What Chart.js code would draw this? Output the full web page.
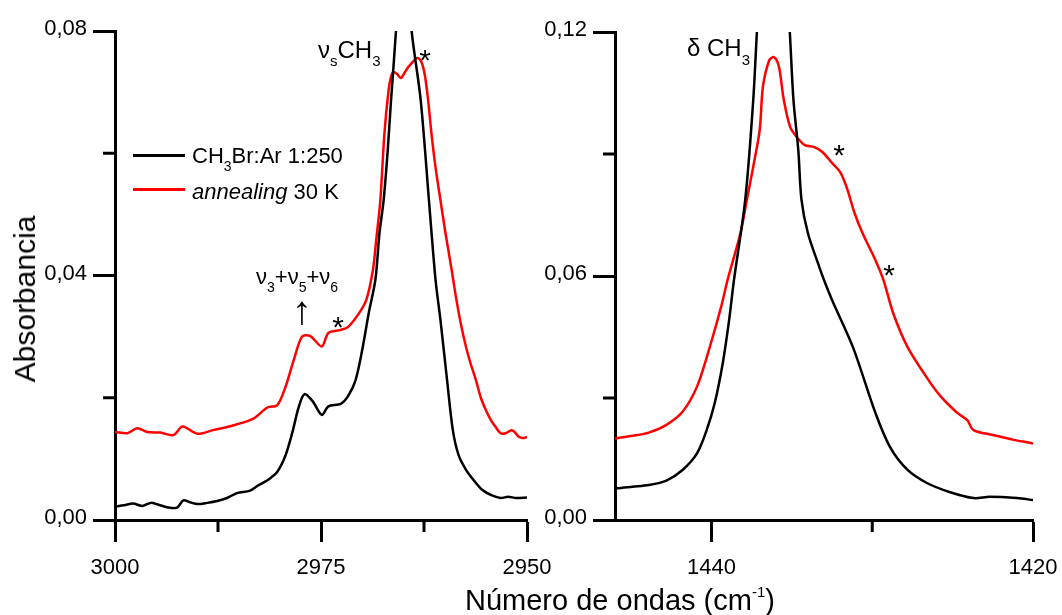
<!DOCTYPE html>
<html><head><meta charset="utf-8">
<script src="https://cdn.jsdelivr.net/npm/chart.js@4.4.1/dist/chart.umd.min.js"></script>
<style>
html,body{margin:0;padding:0;background:#fff;}
#wrap{position:relative;width:1062px;height:615px;overflow:hidden;background:#fff;font-family:"Liberation Sans",Arial,sans-serif;color:#000;}
canvas{position:absolute;top:0;}
.t{position:absolute;white-space:nowrap;line-height:1;font-size:22px;z-index:2;}
.sub{font-size:14px;position:relative;top:8px;}
.star{position:absolute;font-size:30px;line-height:1;z-index:2;transform:translateX(-50%);}
.sw{position:absolute;height:3px;width:52px;left:133px;z-index:2;}
</style></head><body>
<div id="wrap">
<canvas id="cL" width="560" height="615" style="left:0"></canvas>
<canvas id="cR" width="542" height="615" style="left:520px"></canvas>

<div class="t" style="left:318px;top:38px;font-size:24px;">ν<span class="sub" style="font-size:15px">s</span>CH<span class="sub" style="font-size:15px">3</span></div>
<div class="t" style="left:687px;top:36px;font-size:24px;">δ CH<span class="sub" style="top:9px;font-size:15px">3</span></div>
<div class="t" style="left:256px;top:266px;">ν<span class="sub">3</span>+ν<span class="sub">5</span>+ν<span class="sub">6</span></div>
<div class="t" style="left:292px;top:290px;font-size:40px;">↑</div>
<div class="star" style="left:425px;top:45px;">*</div>
<div class="star" style="left:338px;top:312px;">*</div>
<div class="star" style="left:839px;top:140px;">*</div>
<div class="star" style="left:889px;top:260px;">*</div>

<div class="sw" style="top:154px;background:#000;"></div>
<div class="sw" style="top:188px;background:#ff0000;"></div>
<div class="t" style="left:192px;top:145px;">CH<span class="sub">3</span>Br:Ar 1:250</div>
<div class="t" style="left:192px;top:181px;"><i>annealing</i> 30 K</div>

<div class="t" style="left:465px;top:586px;font-size:29px;">Número de ondas (cm<span style="font-size:15px;position:relative;top:-13px;">-1</span>)</div>
<div class="t" style="left:25px;top:299px;font-size:30px;transform:translate(-50%,-50%) rotate(-90deg);">Absorbancia</div>
</div>
<script>
// ---------- data ----------
const seriesNames = ['CH3Br:Ar 1:250', 'annealing 30 K'];
const seriesColors = ['#000000', '#ff0000'];

// left panel (nu_s CH3 region), wavenumber in cm-1
const leftBlackX = [3000,2998.9,2997.8,2996.7,2995.7,2994.7,2993.7,2992.5,2991.7,2990.9,2990.0,2988.8,2987.6,2986.4,2985.2,2983.6,2982.7,2981.5,2980.3,2979.3,2978.5,2977.7,2977.0,2976.0,2974.9,2974.1,2972.6,2971.7,2970.8,2970.0,2969.2,2968.4,2967.9,2967.4,2966.9,2966.5,2965.9,2965.5,2965.0,2964.5,2964.0,2962.9,2961.9,2961.1,2960.5,2959.7,2959.0,2958.3,2957.4,2956.4,2955.4,2954.4,2953.2,2952.3,2951.3,2950.0];
const leftBlackY = [0.0022,0.0024,0.0027,0.0023,0.0028,0.0025,0.0021,0.0020,0.0032,0.0029,0.0026,0.0028,0.0031,0.0036,0.0044,0.0048,0.0056,0.0065,0.0079,0.0106,0.0142,0.0185,0.0206,0.0194,0.0172,0.0186,0.0190,0.0203,0.0229,0.0278,0.0339,0.0393,0.0470,0.0523,0.0605,0.0687,0.0800,0.0900,0.0970,0.0900,0.0800,0.0687,0.0523,0.0393,0.0327,0.0229,0.0147,0.0106,0.0082,0.0064,0.0049,0.0041,0.0036,0.0038,0.0036,0.0037];
const leftRedX = [3000,2998.5,2997.3,2996.1,2994.5,2992.9,2991.8,2990.0,2988.1,2985.6,2983.2,2981.5,2980.3,2979.3,2978.3,2977.3,2976.3,2974.9,2974.1,2972.6,2971.7,2970.4,2969.5,2968.7,2968.3,2967.8,2967.3,2966.8,2966.5,2966.2,2965.8,2965.3,2964.8,2964.4,2963.7,2963.3,2962.8,2962.4,2962.0,2961.6,2961.1,2960.5,2959.9,2959.2,2958.6,2958.0,2957.4,2956.8,2956.2,2955.6,2955.0,2954.4,2953.8,2953.2,2952.6,2951.9,2951.5,2951.0,2950.5,2950.0];
const leftRedY = [0.0144,0.0142,0.0150,0.0144,0.0143,0.0139,0.0153,0.0141,0.0147,0.0155,0.0166,0.0184,0.0188,0.0218,0.0262,0.0300,0.0301,0.0284,0.0306,0.0311,0.0316,0.0338,0.0360,0.0409,0.0458,0.0523,0.0633,0.0703,0.0725,0.0733,0.0730,0.0723,0.0733,0.0741,0.0752,0.0756,0.0749,0.0728,0.0687,0.0633,0.0577,0.0523,0.0470,0.0414,0.0363,0.0319,0.0283,0.0254,0.0229,0.0200,0.0180,0.0164,0.0152,0.0142,0.0142,0.0147,0.0144,0.0136,0.0134,0.0136];

// right panel (delta CH3 region)
const rightBlackX = [1446.0,1445.9,1444.9,1443.9,1442.8,1441.8,1440.9,1440.3,1439.8,1439.3,1438.9,1438.6,1437.9,1437.4,1437.1,1436.6,1436.2,1435.7,1435.2,1434.9,1434.6,1434.4,1434.0,1433.3,1433.0,1432.5,1431.2,1429.8,1428.9,1427.8,1426.6,1425.2,1423.7,1422.7,1421.0,1420.0];
const rightBlackY = [0.0077,0.0078,0.0082,0.0086,0.0097,0.0123,0.0164,0.0221,0.0287,0.0385,0.0492,0.0590,0.0787,0.1033,0.1250,0.1500,0.1600,0.1500,0.1250,0.1033,0.0910,0.0787,0.0705,0.0623,0.0590,0.0541,0.0425,0.0263,0.0180,0.0123,0.0091,0.0069,0.0054,0.0057,0.0054,0.0049];
const rightRedX = [1446.0,1445.9,1444.9,1443.9,1442.8,1441.8,1440.9,1440.1,1439.4,1439.0,1438.2,1437.8,1437.4,1437.0,1436.8,1436.4,1436.1,1435.8,1435.5,1435.1,1434.7,1434.2,1433.6,1433.1,1432.5,1432.0,1431.6,1431.1,1430.6,1429.8,1429.3,1428.7,1427.8,1426.5,1425.7,1424.7,1424.1,1423.7,1422.5,1421.2,1420.2,1420.0];
const rightRedY = [0.0200,0.0201,0.0207,0.0215,0.0234,0.0266,0.0328,0.0426,0.0524,0.0590,0.0705,0.0787,0.0869,0.0959,0.1065,0.1131,0.1138,0.1114,0.1033,0.0966,0.0942,0.0922,0.0917,0.0905,0.0878,0.0856,0.0819,0.0755,0.0705,0.0639,0.0590,0.0509,0.0425,0.0344,0.0302,0.0263,0.0246,0.0221,0.0209,0.0197,0.0190,0.0188];

// ticks
const leftXTicks = [3000, 2975, 2950];
const leftXMinor = [2987.5, 2962.5];
const leftYTicks = [0, 0.04, 0.08];
const leftYMinor = [0.02, 0.06];
const rightXTicks = [1440, 1420];
const rightXMinor = [1430];
const rightYTicks = [0, 0.06, 0.12];
const rightYMinor = [0.03, 0.09];

// ---------- chart ----------
const FONT = "'Liberation Sans', Arial, sans-serif";
Chart.defaults.font.family = FONT;
Chart.defaults.color = '#000';

const minorTicks = {
  id: 'minorTicks',
  afterDraw(chart, args, opts) {
    const ctx = chart.ctx, ca = chart.chartArea;
    ctx.save();
    ctx.strokeStyle = '#000';
    ctx.lineWidth = 3;
    (opts.x || []).forEach(v => {
      const px = chart.scales.x.getPixelForValue(v);
      ctx.beginPath(); ctx.moveTo(px, ca.bottom); ctx.lineTo(px, ca.bottom + 12); ctx.stroke();
    });
    (opts.y || []).forEach(v => {
      const py = chart.scales.y.getPixelForValue(v);
      ctx.beginPath(); ctx.moveTo(ca.left, py); ctx.lineTo(ca.left - 12, py); ctx.stroke();
    });
    ctx.restore();
  }
};

function pts(xs, ys) { return xs.map((x, i) => ({x: x, y: ys[i]})); }
function fmt(v) { return v.toFixed(2).replace('.', ','); }

function makeChart(id, o) {
  const axisCommon = {
    border: {display: true, color: '#000', width: 3},
    grid: {drawOnChartArea: false, drawTicks: true, tickLength: 22, tickWidth: 3, tickColor: '#000', color: '#000'},
  };
  return new Chart(document.getElementById(id), {
    type: 'line',
    data: {
      datasets: [
        {label: seriesNames[0], data: pts(o.bx, o.by), borderColor: seriesColors[0], borderWidth: 2.5, pointRadius: 0, tension: 0.3, fill: false},
        {label: seriesNames[1], data: pts(o.rx, o.ry), borderColor: seriesColors[1], borderWidth: 2.5, pointRadius: 0, tension: 0.3, fill: false}
      ]
    },
    options: {
      responsive: false, animation: false, devicePixelRatio: 1,
      layout: {padding: {top: o.padTop, right: o.padRight, left: 0, bottom: 0}},
      plugins: {legend: {display: false}, tooltip: {enabled: false}, minorTicks: {x: o.xMinor, y: o.yMinor}},
      scales: {
        x: Object.assign({}, axisCommon, {
          type: 'linear', reverse: true, min: o.xMin, max: o.xMax,
          ticks: {font: {size: 22}, color: '#000', padding: 13, maxRotation: 0, callback: v => String(v)},
          afterBuildTicks: s => { s.ticks = o.xTicks.map(v => ({value: v})); },
          afterFit: s => { s.height = 95; s.paddingLeft = 0; s.paddingRight = 0; }
        }),
        y: Object.assign({}, axisCommon, {
          type: 'linear', min: 0, max: o.yMax,
          ticks: {font: {size: 22}, color: '#000', padding: 6, labelOffset: -2, callback: v => fmt(v)},
          afterBuildTicks: s => { s.ticks = o.yTicks.map(v => ({value: v})); },
          afterFit: s => { s.width = o.yWidth; s.paddingTop = 0; s.paddingBottom = 0; }
        })
      }
    },
    plugins: [minorTicks]
  });
}

makeChart('cL', {bx: leftBlackX, by: leftBlackY, rx: leftRedX, ry: leftRedY,
  xMin: 2950, xMax: 3000, yMax: 0.08, xTicks: leftXTicks, yTicks: leftYTicks,
  xMinor: leftXMinor, yMinor: leftYMinor, padTop: 31, padRight: 33, yWidth: 115});
makeChart('cR', {bx: rightBlackX, by: rightBlackY, rx: rightRedX, ry: rightRedY,
  xMin: 1420, xMax: 1446, yMax: 0.12, xTicks: rightXTicks, yTicks: rightYTicks,
  xMinor: rightXMinor, yMinor: rightYMinor, padTop: 32, padRight: 29, yWidth: 95});
</script>
</body></html>
